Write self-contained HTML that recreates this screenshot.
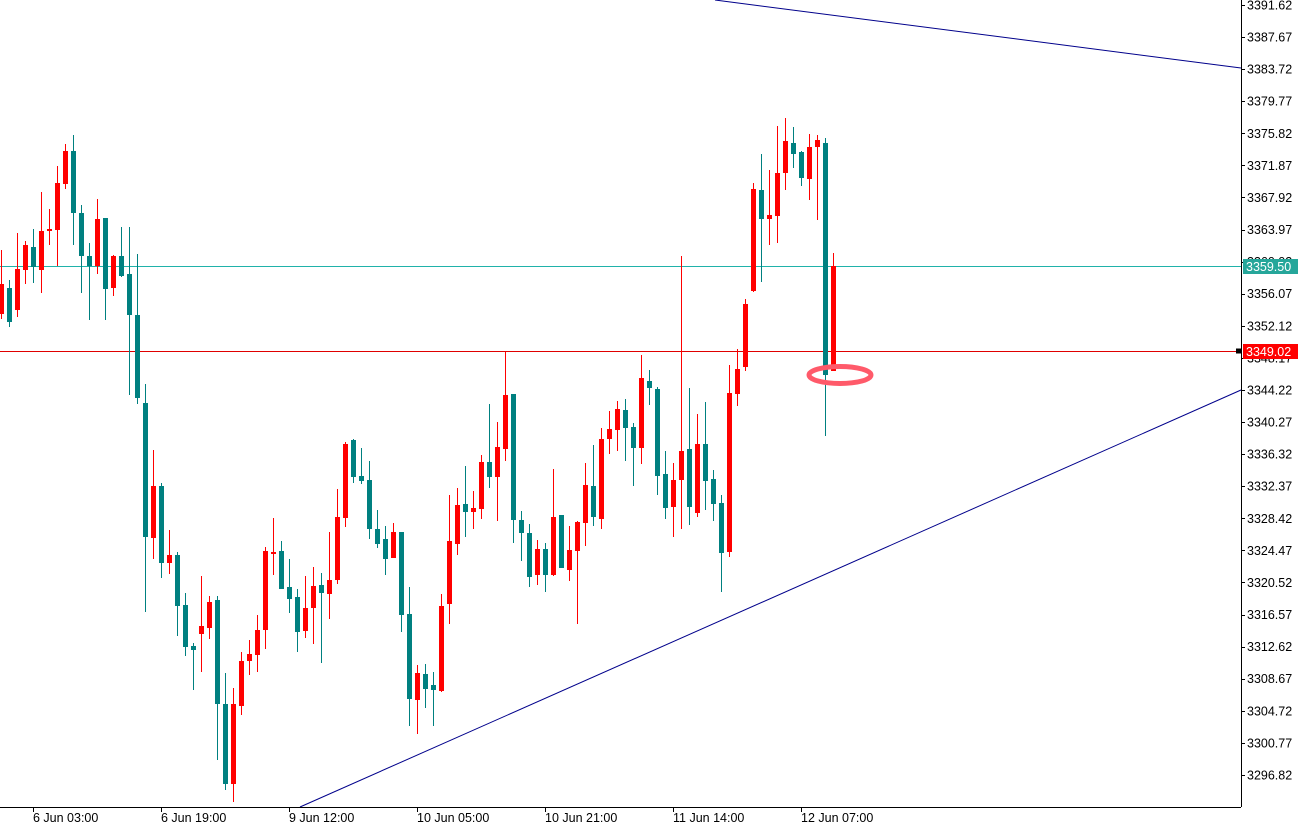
<!DOCTYPE html>
<html><head><meta charset="utf-8"><style>
html,body{margin:0;padding:0;background:#fff;width:1310px;height:825px;overflow:hidden}
svg{display:block;font-family:"Liberation Sans","DejaVu Sans",sans-serif}
</style></head><body>
<svg id="s" width="1310" height="825" xmlns="http://www.w3.org/2000/svg">
<rect width="1310" height="825" fill="#fff"/>
<line x1="0" y1="266.5" x2="1241" y2="266.5" stroke="#20b2aa" stroke-width="1"/>
<line x1="0" y1="351.5" x2="1241" y2="351.5" stroke="#e00000" stroke-width="1"/>
<g id="c"></g>
<line x1="715" y1="0" x2="1241" y2="68" stroke="#00008b" stroke-width="1"/>
<line x1="300" y1="807" x2="1241" y2="390" stroke="#00008b" stroke-width="1"/>
<ellipse cx="840" cy="375" rx="31" ry="8.5" fill="none" stroke="#ff5a6a" stroke-width="5"/>
<line x1="1241.5" y1="0" x2="1241.5" y2="807" stroke="#000"/>
<line x1="0" y1="807.5" x2="1241" y2="807.5" stroke="#000"/>
<g id="ax" font-size="12.5" fill="#000"></g>
<rect x="1243" y="259" width="55" height="15" fill="#26a69a"/>
<text x="1246" y="271" font-size="12.5" fill="#fff">3359.50</text>
<rect x="1243" y="344" width="55" height="15" fill="#ff0000"/>
<text x="1246" y="356" font-size="12.5" fill="#fff">3349.02</text>
<rect x="1236" y="348.5" width="5" height="5" fill="#000"/>
</svg>
<script>
var d=[
['r',250,284,314,319],['t',280,288,322,327],['r',233,269,310,317],['r',241,245,270,284],['t',229,247,267,283],
['r',192,231,270,293],['r',209,229,231,245],['r',166,183,230,266],['r',144,151,184,189],['t',135,151,213,245],
['t',205,213,256,293],['t',243,256,266,320],['r',199,219,266,274],['t',218,218,289,320],['r',255,256,288,296],
['t',227,256,276,277],['t',227,274,315,395],['t',254,315,398,404],['t',384,403,537,612],['r',450,486,538,559],
['t',483,486,563,578],['r',530,555,563,574],['t',552,555,606,636],['t',593,605,647,656],['t',643,646,650,690],
['r',576,626,634,672],['r',596,602,628,639],['t',596,600,704,760],['t',673,704,784,790],['r',688,704,784,802],
['r',652,661,706,715],['r',640,654,661,675],['r',615,630,655,672],['r',547,551,630,649],['r',518,552,554,575],
['t',541,551,589,589],['t',559,587,599,613],['t',589,597,632,652],['r',576,608,631,638],['r',567,586,608,644],
['t',573,585,593,663],['r',532,580,594,619],['r',489,517,580,584],['r',442,444,518,527],['t',439,440,477,483],
['t',448,476,481,484],['t',461,480,529,539],['t',510,529,544,548],['t',526,539,559,575],['r',523,532,558,558],
['t',532,532,615,632],['t',587,614,699,726],['r',665,673,700,734],['t',664,674,689,708],['t',672,685,690,726],
['r',594,606,691,692],['r',495,541,604,624],['r',488,505,544,555],['t',466,504,512,537],['r',491,508,512,529],
['r',455,462,509,519],['t',404,462,477,488],['r',422,447,477,521],['r',352,395,449,461],['t',394,394,520,543],
['t',511,520,533,561],['t',524,533,577,587],['r',540,549,575,585],['t',543,549,575,592],['r',469,517,575,576],
['t',515,515,568,568],['r',526,550,570,581],['r',521,522,551,624],['r',463,485,523,546],['t',445,486,517,526],
['r',428,439,519,529],['r',411,429,439,454],['r',401,409,430,451],['t',399,410,428,461],['t',423,427,448,486],
['r',355,378,448,464],['t',370,381,388,405],['t',387,389,476,495],['t',451,474,508,519],['r',463,480,507,537],
['r',256,451,480,529],['t',388,449,507,525],['r',414,444,513,517],['t',402,444,481,510],['t',470,479,504,521],
['t',495,503,553,592],['r',365,393,552,557],['r',349,369,394,406],['r',299,304,367,371],['r',183,189,291,292],
['t',154,190,219,282],['r',170,215,219,245],['r',126,173,216,243],['r',118,141,173,190],['t',127,143,154,168],
['t',151,152,178,186],['r',134,147,179,200],['r',135,140,147,220],['t',138,143,375,436],['r',253,266,371,371]
];
var ns='http://www.w3.org/2000/svg',g=document.getElementById('c'),h='';
d.forEach(function(c,i){var x=1+8*i,col=c[0]=='r'?'#ff0000':'#008080';
h+='<line x1="'+(x+0.5)+'" y1="'+c[1]+'" x2="'+(x+0.5)+'" y2="'+c[4]+'" stroke="'+col+'" stroke-width="1"/>';
var bh=Math.max(2,c[3]-c[2]);h+='<rect x="'+(x-2)+'" y="'+c[2]+'" width="5" height="'+bh+'" fill="'+col+'"/>';});
g.innerHTML=h;
var ax=document.getElementById('ax'),a='';
var labs=['3391.62','3387.67','3383.72','3379.77','3375.82','3371.87','3367.92','3363.97','3360.02','3356.07','3352.12','3348.17','3344.22','3340.27','3336.32','3332.37','3328.42','3324.47','3320.52','3316.57','3312.62','3308.67','3304.72','3300.77','3296.82'];
labs.forEach(function(l,i){var y=5+i*32.08;a+='<line x1="1241" y1="'+(Math.round(y)+0.5)+'" x2="1245" y2="'+(Math.round(y)+0.5)+'" stroke="#000"/>';
a+='<text x="1247" y="'+(y+4.5)+'">'+l+'</text>';});
var t=['6 Jun 03:00','6 Jun 19:00','9 Jun 12:00','10 Jun 05:00','10 Jun 21:00','11 Jun 14:00','12 Jun 07:00'];
t.forEach(function(l,i){var x=33+128*i;a+='<line x1="'+(x+0.5)+'" y1="807" x2="'+(x+0.5)+'" y2="812" stroke="#000"/>';
a+='<text x="'+x+'" y="822">'+l+'</text>';});
ax.innerHTML=a;
</script>
</body></html>
